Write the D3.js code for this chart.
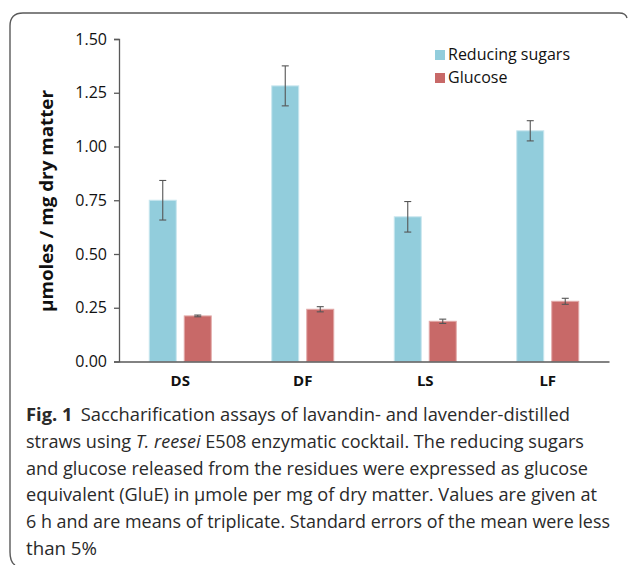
<!DOCTYPE html>
<html>
<head>
<meta charset="utf-8">
<script src="https://cdn.jsdelivr.net/npm/d3@7"></script>
<style>
  body { margin: 0; background: #fff; }
  svg { display: block; }
</style>
</head>
<body>
<div id="chart"></div>
<script>
// values
var categories = ["DS", "DF", "LS", "LF"];
var seriesNames = ["Reducing sugars", "Glucose"];
var reducingSugars = [0.750, 1.282, 0.673, 1.073];
var reducingErr = [0.092, 0.093, 0.071, 0.047];
var glucose = [0.212, 0.243, 0.187, 0.280];
var glucoseErr = [0.004, 0.012, 0.010, 0.014];
var yTicks = [0, 0.25, 0.5, 0.75, 1.0, 1.25, 1.5];
var captionLines = [
    "Saccharification assays of lavandin- and lavender-distilled",
    "straws using |T. reesei| E508 enzymatic cocktail. The reducing sugars",
    "and glucose released from the residues were expressed as glucose",
    "equivalent (GluE) in µmole per mg of dry matter. Values are given at",
    "6 h and are means of triplicate. Standard errors of the mean were less",
    "than 5%"
];

var width = 629, height = 565;
var colors = ["#92cddc", "#c86968"];
var edge = ["#c8e6ee", "#e2a9a8"];
var chartFont = "'Open Sans', sans-serif";

var svg = d3.select("#chart").append("svg")
    .attr("width", width)
    .attr("height", height);

// frame round the figure
svg.append("path")
    .attr("d", "M627,18 Q626,13 619,13 L23,13 Q10,13 10,26 L10,552 Q10,562 15,565")
    .attr("fill", "none")
    .attr("stroke", "#5a5a5a")
    .attr("stroke-width", 1.4);

var x = d3.scaleBand()
    .domain(categories)
    .range([119, 609]);

var x1 = d3.scaleBand()
    .domain(seriesNames)
    .range([x.bandwidth() / 2 - 31, x.bandwidth() / 2 + 31])
    .paddingInner(0.2286);

var y = d3.scaleLinear()
    .domain([0, 1.5])
    .range([361.5, 39]);

// bars
var rows = categories.map(function (c, i) {
    return [
        {cat: c, s: 0, v: reducingSugars[i], e: reducingErr[i]},
        {cat: c, s: 1, v: glucose[i], e: glucoseErr[i]}
    ];
});

var groups = svg.selectAll("g.group")
    .data(rows)
    .enter().append("g")
    .attr("class", "group")
    .attr("transform", function (d) { return "translate(" + x(d[0].cat) + ",0)"; });

groups.selectAll("rect")
    .data(function (d) { return d; })
    .enter().append("rect")
    .attr("x", function (d) { return x1(seriesNames[d.s]); })
    .attr("width", x1.bandwidth())
    .attr("y", function (d) { return y(d.v); })
    .attr("height", function (d) { return y(0) - y(d.v); })
    .attr("fill", function (d) { return colors[d.s]; })
    .attr("stroke", function (d) { return edge[d.s]; })
    .attr("stroke-width", 1);

// error bars
var err = groups.selectAll("g.err")
    .data(function (d) { return d; })
    .enter().append("g")
    .attr("class", "err")
    .attr("stroke", "#555")
    .attr("stroke-width", 1.1);

err.append("line")
    .attr("x1", function (d) { return x1(seriesNames[d.s]) + x1.bandwidth() / 2; })
    .attr("x2", function (d) { return x1(seriesNames[d.s]) + x1.bandwidth() / 2; })
    .attr("y1", function (d) { return y(d.v + d.e); })
    .attr("y2", function (d) { return y(d.v - d.e); });

[1, -1].forEach(function (sign) {
    err.append("line")
        .attr("x1", function (d) { return x1(seriesNames[d.s]) + x1.bandwidth() / 2 - 3.5; })
        .attr("x2", function (d) { return x1(seriesNames[d.s]) + x1.bandwidth() / 2 + 3.5; })
        .attr("y1", function (d) { return y(d.v + sign * d.e); })
        .attr("y2", function (d) { return y(d.v + sign * d.e); });
});

// y axis
var yAxis = svg.append("g")
    .attr("transform", "translate(119,0)")
    .call(d3.axisLeft(y).tickValues(yTicks).tickFormat(d3.format(".2f")).tickSizeOuter(0).tickSize(5).tickPadding(7));
yAxis.select(".domain").attr("stroke", "#595959").attr("stroke-width", 1.3);
yAxis.selectAll(".tick line").attr("stroke", "#595959").attr("stroke-width", 1.3);
yAxis.selectAll(".tick text")
    .attr("fill", "#111")
    .style("font-family", chartFont)
    .style("font-size", "16px");

// x axis
var xAxis = svg.append("g")
    .attr("transform", "translate(0," + y(0) + ")")
    .call(d3.axisBottom(x).tickSize(0).tickPadding(14));
xAxis.select(".domain").attr("stroke", "#595959").attr("stroke-width", 1.6);
xAxis.selectAll(".tick text")
    .attr("fill", "#111")
    .style("font-family", chartFont)
    .style("font-weight", "bold")
    .style("font-size", "15px");

// y title
svg.append("text")
    .attr("transform", "translate(53,201) rotate(-90)")
    .attr("text-anchor", "middle")
    .style("font-family", chartFont)
    .style("font-weight", "bold")
    .style("font-size", "18px")
    .attr("fill", "#111")
    .attr("textLength", 222)
    .attr("lengthAdjust", "spacingAndGlyphs")
    .text("µmoles / mg dry matter");

// legend
var legend = svg.append("g").attr("transform", "translate(435,50)");
var li = legend.selectAll("g")
    .data(seriesNames)
    .enter().append("g")
    .attr("transform", function (d, i) { return "translate(0," + i * 23 + ")"; });
li.append("rect")
    .attr("width", 10).attr("height", 10)
    .attr("fill", function (d, i) { return colors[i]; });
li.append("text")
    .attr("x", 13).attr("y", 10)
    .style("font-family", chartFont)
    .style("font-size", "16px")
    .attr("fill", "#111")
    .text(function (d) { return d; });

// caption
var capEnds = [570, 584, 588, 597, 610, 97];
var cap = svg.append("g")
    .style("font-family", "'Open Sans', sans-serif")
    .style("font-size", "18px")
    .attr("fill", "#2a2a2a");

captionLines.forEach(function (line, i) {
    var t = cap.append("text")
        .attr("x", 26)
        .attr("y", 421 + i * 26.8);
    if (i === 0) {
        t.append("tspan").style("font-weight", "bold").text("Fig. 1");
        t.append("tspan").attr("dx", 8).text(line);
    } else {
        line.split("|").forEach(function (part, k) {
            t.append("tspan")
                .style("font-style", k % 2 ? "italic" : "normal")
                .text(part);
        });
    }
    t.attr("textLength", capEnds[i] - 26).attr("lengthAdjust", "spacingAndGlyphs");
});
</script>
</body>
</html>
